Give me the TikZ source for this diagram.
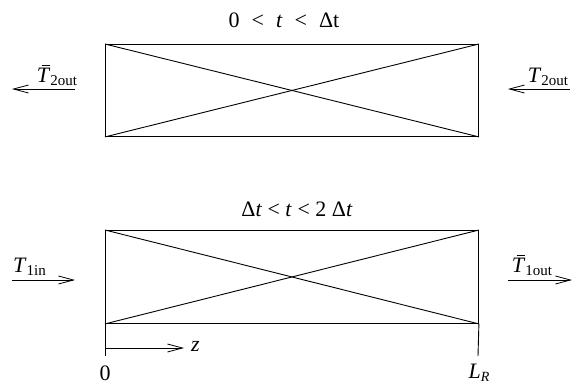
\documentclass[tikz,border=0pt]{standalone}
\usepackage{fontspec}
\setmainfont{Liberation Serif}
\usetikzlibrary{arrows.meta}
\tikzset{
  big/.style={inner sep=0pt, font=\fontsize{22}{26}\selectfont},
  boxn/.style={draw, line width=0.9pt, minimum width=373pt, minimum height=92pt, inner sep=0pt, anchor=north west},
  flow/.style={line width=0.8pt, -{Straight Barb[length=15pt,width=8pt,line width=0.8pt]}},
  thin/.style={line width=0.9pt}
}
\newcommand{\Tb}{\rlap{\kern5pt\raisebox{16.8pt}{\rule{8pt}{0.8pt}}}\textit{T}}
\newcommand{\Tn}{\textit{T}}
\newcommand{\sub}[1]{\raisebox{-0.35ex}{\fontsize{15}{17}\selectfont #1}}
\begin{document}
\begin{tikzpicture}[x=1pt,y=-1pt]
\useasboundingbox (0,0) rectangle (579,384);
% boxes
\node[boxn] (top) at (105,44) {};
\node[boxn, minimum height=93pt] (bot) at (105,230) {};
\draw[thin] (top.north west) -- (top.south east);
\draw[thin] (top.south west) -- (top.north east);
\draw[thin] (bot.north west) -- (bot.south east);
\draw[thin] (bot.south west) -- (bot.north east);
% extensions
\coordinate (e0) at (105,356);
\coordinate (eL) at (478,356);
\draw[thin] (bot.south west) -- (e0);
\draw[thin] (bot.south east) -- (eL);
% z arrow
\coordinate (z0) at (105,348);
\coordinate (z1) at (184,348);
\node[big, anchor=west] (zl) at (191,346) {\textit{z}};
\draw[flow] (z0) -- (z1);
% axis labels
\node[big] (zero) at (105,373) {0};
\node[big] (LR) at (479,373) {\textit{L}\raisebox{-0.35ex}{\fontsize{14}{16}\selectfont\textit{R}}};
% titles
\node[big] (t1) at (284,20) {0\kern12pt<\kern12pt\textit{t}\kern12pt<\kern12ptΔt};
\node[big] (t2) at (297,209) {Δ\textit{t} < \textit{t} < 2 Δ\textit{t}};
% top arrows
\coordinate (a1s) at (75,89);
\coordinate (a1e) at (12,89);
\draw[flow] (a1s) -- (a1e);
\node[big, anchor=south] (l1) at (57,86) {\Tb\sub{2out}};
\coordinate (a2s) at (570,89);
\coordinate (a2e) at (508,89);
\draw[flow] (a2s) -- (a2e);
\node[big, anchor=south] (l2) at (548,86) {\Tn\sub{2out}};
% bottom arrows
\coordinate (b1s) at (12,280);
\coordinate (b1e) at (75,280);
\draw[flow] (b1s) -- (b1e);
\node[big, anchor=south west] (l3) at (13,276) {\Tn\sub{1in}};
\coordinate (b2s) at (508,280);
\coordinate (b2e) at (572,280);
\draw[flow] (b2s) -- (b2e);
\node[big, anchor=south] (l4) at (532,276) {\Tb\sub{1out}};
\end{tikzpicture}
\end{document}
